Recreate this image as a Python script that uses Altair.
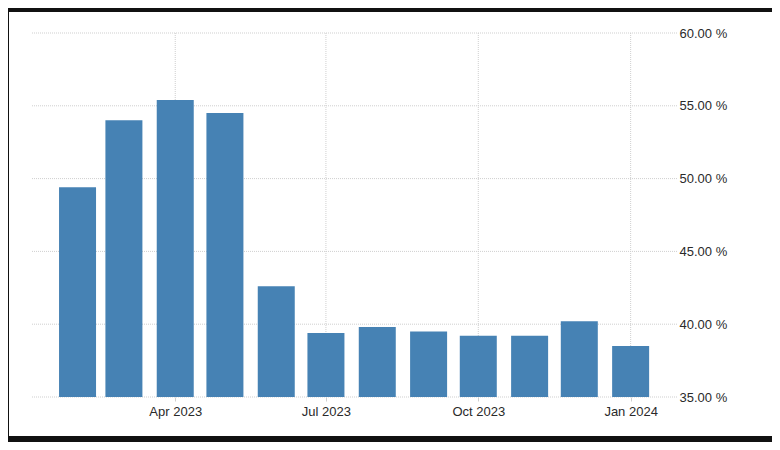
import altair as alt
import pandas as pd

# Data
months = ["2023-02-01", "2023-03-01", "2023-04-01", "2023-05-01", "2023-06-01", "2023-07-01",
          "2023-08-01", "2023-09-01", "2023-10-01", "2023-11-01", "2023-12-01", "2024-01-01"]
values = [49.4, 54.0, 55.4, 54.5, 42.6, 39.4, 39.8, 39.5, 39.2, 39.2, 40.2, 38.5]
y_ticks = [35, 40, 45, 50, 55, 60]
x_ticks = [(2023, 4), (2023, 7), (2023, 10), (2024, 1)]
x_tick_dates = ["2023-04-01", "2023-07-01", "2023-10-01", "2024-01-01"]

df = pd.DataFrame({"date": months, "value": values})
xgrid = pd.DataFrame({"date": x_tick_dates})
ygrid = pd.DataFrame({"value": y_ticks})

FONT = "Liberation Sans"
GRID = "#cfcfcf"

xscale = alt.Scale(
    type="utc",
    nice=False,
    padding=0,
    domain=[alt.DateTime(year=2023, month=1, date=4, hours=12, utc=True),
            alt.DateTime(year=2024, month=1, date=29, utc=True)],
)
yscale = alt.Scale(domain=[35, 60], zero=False, nice=False, padding=0)

xaxis = alt.Axis(
    values=[alt.DateTime(year=y, month=m, date=1, utc=True) for y, m in x_ticks],
    format="%b %Y", grid=False, domain=False, ticks=True, tickColor=GRID, tickSize=4,
    labelPadding=4, labelFont=FONT, labelFontSize=13, labelColor="#2a2a2a",
    labelBaseline="top", title=None, zindex=1,
)
yaxis = alt.Axis(
    orient="right", values=y_ticks, labelExpr="format(datum.value, '.2f') + ' %'",
    grid=False, domain=False, ticks=False, labelPadding=2, labelFont=FONT,
    labelFontSize=13, labelColor="#2a2a2a", labelAlign="left", labelBaseline="middle",
    title=None, zindex=1,
)

panel = alt.Chart(alt.Data(values=[{"a": 1}])).mark_rect(color="white").encode(
    x=alt.value(-23), x2=alt.value(740), y=alt.value(-21), y2=alt.value(403)
)

vgrid = alt.Chart(xgrid).mark_rule(color=GRID, strokeDash=[1, 1], strokeWidth=1).encode(
    x=alt.X("date:T", scale=xscale, axis=xaxis)
)
hgrid = alt.Chart(ygrid).mark_rule(color=GRID, strokeDash=[1, 1], strokeWidth=1).encode(
    y=alt.Y("value:Q", scale=yscale, axis=yaxis)
)

bars = alt.Chart(df).mark_bar(size=37, color="#4682b4").encode(
    x=alt.X("date:T", scale=xscale, axis=xaxis),
    y=alt.Y("value:Q", scale=yscale, axis=yaxis),
    y2=alt.datum(35),
)

chart = alt.layer(panel, vgrid, hgrid, bars).properties(
    width=645,
    height=364,
    autosize=alt.AutoSizeParams(type="none"),
    padding={"left": 24, "top": 25, "right": 95, "bottom": 45},
    background="#111111",
).configure_view(stroke=None)

chart.save("out.html", embed_options={"renderer": "svg", "actions": False})
